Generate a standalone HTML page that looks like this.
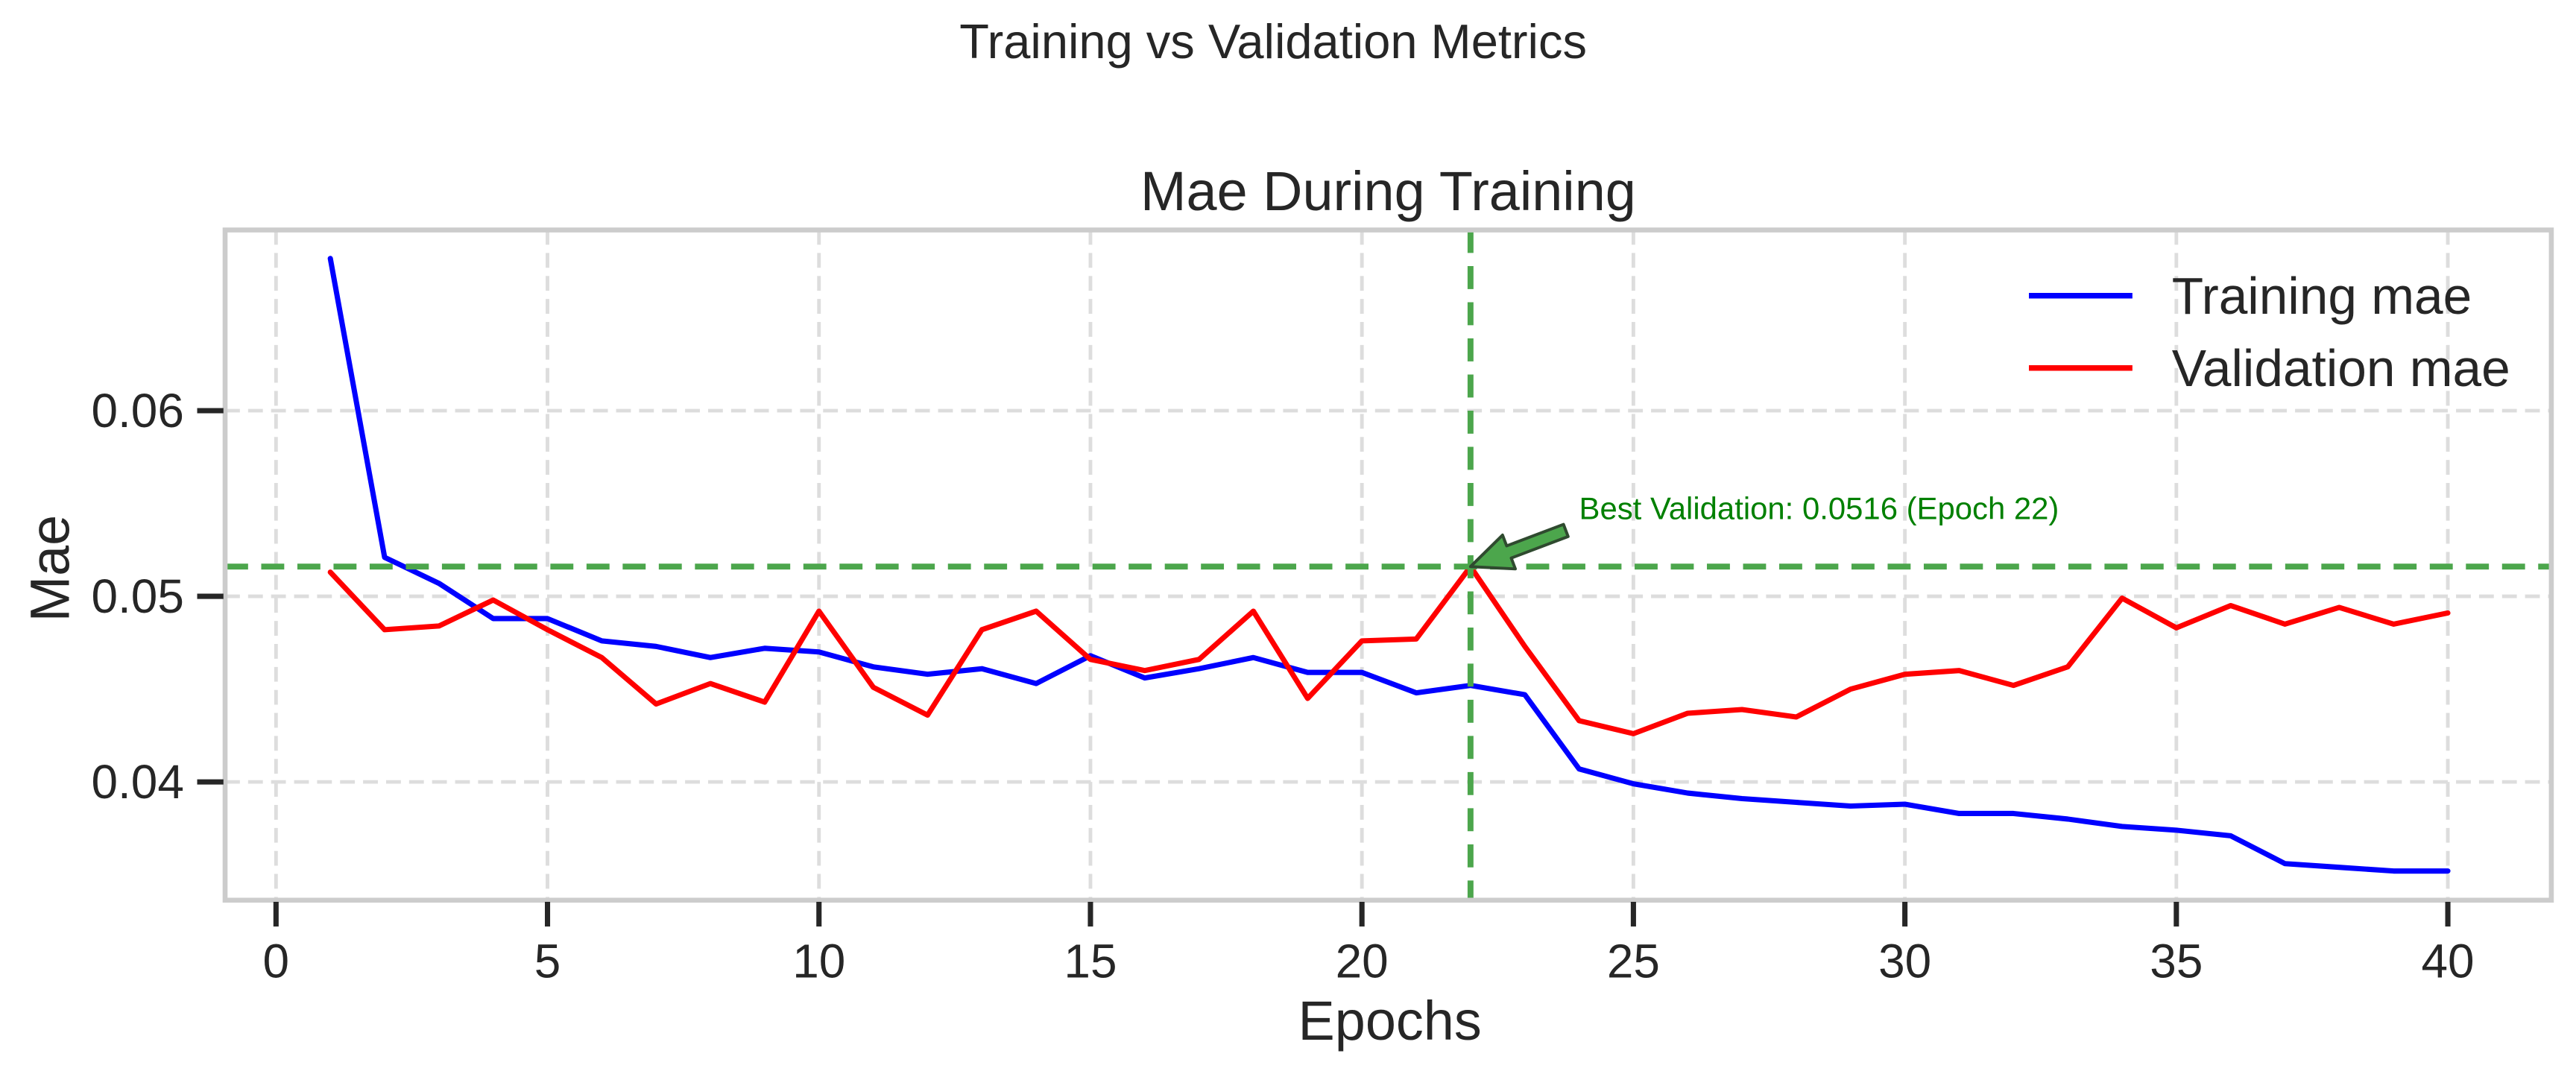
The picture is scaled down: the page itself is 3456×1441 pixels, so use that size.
<!DOCTYPE html>
<html><head><meta charset="utf-8"><style>
html,body{margin:0;padding:0;background:#fff}
svg{display:block}
text{font-family:"Liberation Sans",sans-serif;fill:#262626}
</style></head><body>
<svg id="chart" width="3456" height="1441" viewBox="0 0 1568 653.8" xmlns="http://www.w3.org/2000/svg">
<rect width="1568" height="654" fill="#fff"/>
<text x="775" y="35.5" font-size="29.5" text-anchor="middle">Training vs Validation Metrics</text>
<text x="845" y="128" font-size="33.5" text-anchor="middle">Mae During Training</text>
<g id="grid"></g>
<g id="marks"></g>
<rect x="137" y="140" width="1416" height="408" fill="none" stroke="#cccccc" stroke-width="3"/>
<g id="axes"></g>
<text x="846" y="633" font-size="33.5" text-anchor="middle">Epochs</text>
<text transform="translate(42,346) rotate(-90)" font-size="33.5" text-anchor="middle">Mae</text>
<g>
<line x1="1235" y1="180" x2="1298" y2="180" stroke="#0000ff" stroke-width="3.4"/>
<text x="1322" y="191" font-size="31.5">Training mae</text>
<line x1="1235" y1="224" x2="1298" y2="224" stroke="#ff0000" stroke-width="3.4"/>
<text x="1322" y="235" font-size="31.5">Validation mae</text>
</g>
</svg>
<script>
const epochs=[];for(let i=1;i<=40;i++)epochs.push(i);
const trainMae=[0.0682,0.0521,0.0507,0.0488,0.0488,0.0476,0.0473,0.0467,0.0472,0.0470,0.0462,0.0458,0.0461,0.0453,0.0468,0.0456,0.0461,0.0467,0.0459,0.0459,0.0448,0.0452,0.0447,0.0407,0.0399,0.0394,0.0391,0.0389,0.0387,0.0388,0.0383,0.0383,0.0380,0.0376,0.0374,0.0371,0.0356,0.0354,0.0352,0.0352];
const valMae=[0.0513,0.0482,0.0484,0.0498,0.0482,0.0467,0.0442,0.0453,0.0443,0.0492,0.0451,0.0436,0.0482,0.0492,0.0466,0.0460,0.0466,0.0492,0.0445,0.0476,0.0477,0.0516,0.0473,0.0433,0.0426,0.0437,0.0439,0.0435,0.0450,0.0458,0.0460,0.0452,0.0462,0.0499,0.0483,0.0495,0.0485,0.0494,0.0485,0.0491];
const xTicks=[0,5,10,15,20,25,30,35,40];
const yTicks=[0.04,0.05,0.06];
const yTickLabels=["0.04","0.05","0.06"];
const bestEpoch=22;
const bestVal=0.0516;

const NS="http://www.w3.org/2000/svg";
function X(v){return 168+v*(1490-168)/40;}
function Y(v){return 476-(v-0.04)*11300;}
function mk(tag,attrs,parent){const e=document.createElementNS(NS,tag);for(const k in attrs)e.setAttribute(k,attrs[k]);parent.appendChild(e);return e;}
const grid=document.getElementById('grid'),marks=document.getElementById('marks'),axes=document.getElementById('axes');
xTicks.forEach(t=>{
  const l=mk('line',{x1:X(t),x2:X(t),y1:140,y2:548,stroke:'#dddddd','stroke-width':2.2,'stroke-dasharray':'9,5'},grid);
  
  
  const tk=mk('line',{x1:X(t),x2:X(t),y1:549,y2:564,stroke:'#262626','stroke-width':3.2},axes);
  
  
  const tx=mk('text',{x:X(t),y:595,'font-size':29,'text-anchor':'middle'},axes);
  tx.textContent=t;
  
  
});
yTicks.forEach((t,i)=>{
  const l=mk('line',{x1:137,x2:1553,y1:Y(t),y2:Y(t),stroke:'#dddddd','stroke-width':2.2,'stroke-dasharray':'9,5'},grid);
  
  
  const tk=mk('line',{x1:120,x2:136,y1:Y(t),y2:Y(t),stroke:'#262626','stroke-width':3.2},axes);
  
  
  const tx=mk('text',{x:112,y:Y(t)+10,'font-size':29,'text-anchor':'end'},axes);
  tx.textContent=yTickLabels[i];
  
  
});
const tr=mk('polyline',{points:epochs.map((e,i)=>X(e)+','+Y(trainMae[i])).join(' '),fill:'none',stroke:'#0000ff','stroke-width':3.2,'stroke-linejoin':'round','stroke-linecap':'round'},marks);


const va=mk('polyline',{points:epochs.map((e,i)=>X(e)+','+Y(valMae[i])).join(' '),fill:'none',stroke:'#ff0000','stroke-width':3.2,'stroke-linejoin':'round','stroke-linecap':'round'},marks);


const hl=mk('line',{x1:137,x2:1553,y1:Y(bestVal),y2:Y(bestVal),stroke:'#4ca64c','stroke-width':3.6,'stroke-dasharray':'14,8'},marks);


const vl=mk('line',{x1:X(bestEpoch),x2:X(bestEpoch),y1:140,y2:548,stroke:'#4ca64c','stroke-width':3.6,'stroke-dasharray':'14,8'},marks);


const px=X(bestEpoch),py=Y(bestVal);
const ar=mk('polygon',{points:[[0,0],[19.5,-19.2],[22,-12.6],[56.6,-25.7],[59.4,-18.3],[24.8,-5.2],[27.3,1.4]].map(p=>(px+p[0])+','+(py+p[1])).join(' '),fill:'#4ca64c',stroke:'#2f4a2f','stroke-width':1.8,'stroke-linejoin':'round'},marks);


const at=mk('text',{x:X(24),y:316,'font-size':19,style:'fill:#008000'},marks);
at.textContent='Best Validation: '+bestVal.toFixed(4)+' (Epoch '+bestEpoch+')';


</script>
</body></html>
